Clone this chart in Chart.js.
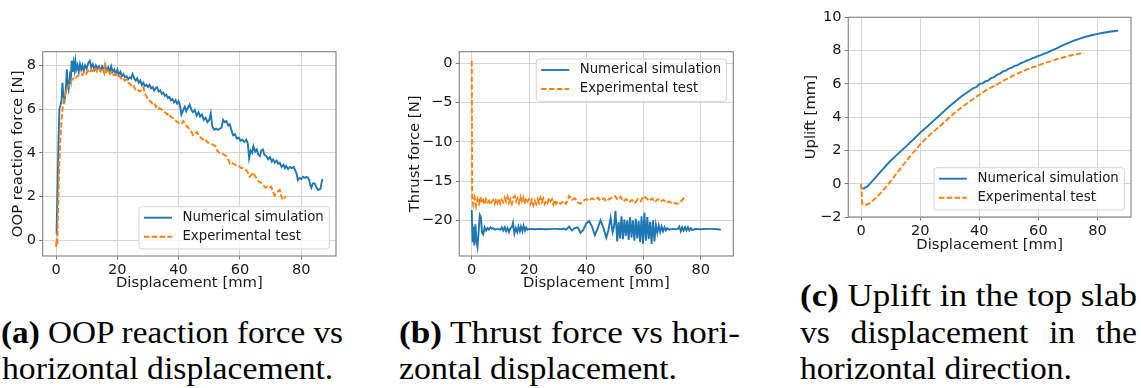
<!DOCTYPE html>
<html><head><meta charset="utf-8">
<script src="https://cdn.jsdelivr.net/npm/chart.js@4.4.1/dist/chart.umd.min.js"></script>
<style>
html,body{margin:0;padding:0;background:#fff;width:1141px;height:388px;overflow:hidden;position:relative;}
.cv{position:absolute;top:0;}
.cap{position:absolute;white-space:nowrap;font-family:'Liberation Serif',serif;font-size:30.5px;line-height:30.5px;color:#000;transform-origin:0 0;}
.cap b{font-weight:bold;}
</style></head><body>
<canvas id="cA" class="cv" width="360" height="292" style="left:0px"></canvas>
<canvas id="cB" class="cv" width="360" height="292" style="left:380px"></canvas>
<canvas id="cC" class="cv" width="381" height="254" style="left:760px"></canvas>
<script>
// ---------- data ----------
const seriesLabels = ['Numerical simulation', 'Experimental test'];
const xTicks = [0, 20, 40, 60, 80];
const oopTicks = [0, 2, 4, 6, 8];
const thrustTicks = [0, -5, -10, -15, -20];
const upliftTicks = [-2, 0, 2, 4, 6, 8, 10];

const oopSim = [[0,0.3],[0.2,0.5],[0.5,2.5],[0.8,4.5],[1.1,6.0],[1.5,6.2],[1.8,6.4],[2.1,7.2],[2.4,6.6],[2.8,6.4],[3.2,6.9],[3.5,7.8],[3.8,7.1],[4.1,6.9],[4.5,7.5],[4.8,7.3],[5.1,8.2],[5.4,7.7],[5.7,8.1],[6.0,7.8],[6.3,8.2],[6.6,7.8],[7.0,8.0],[7.4,7.7],[7.8,8.05],[8.2,7.8],[8.6,8.0],[9.0,7.75],[9.5,8.0],[10.0,7.85],[10.5,8.1],[11.0,8.2],[11.5,7.9],[12.0,8.05],[12.5,7.8],[13.0,8.0],[13.5,7.85],[14.0,7.95],[14.5,7.75],[15.0,7.95],[15.5,7.8],[16.0,8.0],[16.5,7.75],[17.0,7.9],[17.5,7.7],[18.0,7.95],[18.5,7.7],[19.0,7.8],[19.5,7.6],[20.0,7.8],[20.5,7.55],[21.0,7.7],[21.5,7.5],[22.0,7.6],[22.5,7.45],[23.0,7.5],[23.5,7.35],[24.0,7.45],[24.5,7.4],[25.0,7.6],[25.5,7.4],[26.0,7.3],[26.5,7.4],[27.0,7.2],[27.5,7.3],[28.0,7.1],[28.5,7.2],[29.0,7.05],[29.5,7.1],[30.0,7.0],[30.5,7.1],[31.0,6.95],[31.5,7.0],[32.0,6.85],[32.5,6.95],[33.0,7.0],[33.5,6.8],[34.0,6.85],[34.5,6.7],[35.0,6.75],[35.5,6.6],[36.0,6.65],[36.5,6.5],[37.0,6.55],[37.5,6.4],[38.0,6.45],[38.5,6.3],[39.0,6.4],[39.5,6.25],[40.0,6.35],[40.4,6.2],[40.9,5.75],[41.5,5.95],[42.0,6.1],[42.5,5.9],[43.0,6.05],[43.6,6.2],[44.2,5.95],[44.7,5.85],[45.3,5.95],[45.9,5.7],[46.5,5.85],[47.0,5.65],[47.6,5.75],[48.2,5.5],[48.8,5.6],[49.4,5.4],[50.0,5.5],[50.5,5.8],[51.0,5.2],[51.6,5.05],[52.2,5.1],[52.8,5.05],[53.4,5.1],[54.0,5.15],[54.5,5.5],[55.0,5.4],[55.6,5.45],[56.2,5.25],[56.7,5.3],[57.3,5.0],[57.8,4.8],[58.4,4.85],[59.0,4.65],[59.6,4.7],[60.2,4.55],[60.8,4.6],[61.4,4.5],[62.1,4.6],[62.6,4.4],[63.0,3.75],[63.5,4.1],[64.0,4.0],[64.4,4.3],[65.0,4.05],[65.5,4.15],[65.9,3.95],[66.5,3.85],[67.0,4.1],[67.5,4.15],[68.0,3.9],[68.6,3.85],[69.2,3.7],[69.8,3.8],[70.4,3.6],[70.8,3.7],[71.4,3.55],[72.0,3.65],[72.5,3.5],[73.0,3.55],[73.6,3.35],[74.2,3.45],[74.7,3.3],[75.1,3.4],[75.7,3.25],[76.3,3.35],[77.0,3.3],[77.5,3.35],[78.0,3.2],[78.5,3.05],[78.9,2.75],[79.5,2.85],[80.0,2.8],[80.6,2.9],[81.2,2.85],[81.8,2.9],[82.3,2.85],[82.7,2.7],[83.0,2.5],[83.3,2.4],[83.8,2.6],[84.4,2.6],[85.0,2.4],[85.5,2.3],[85.8,2.3],[86.3,2.35],[86.6,2.6],[86.9,2.8]];

const oopExp = [[0,-0.3],[0.2,0.1],[0.4,-0.2],[0.6,1.0],[0.8,2.2],[1.1,3.6],[1.4,4.6],[1.8,5.5],[2.2,6.1],[2.7,6.5],[3.2,6.8],[3.8,7.0],[4.4,7.15],[5.0,7.3],[5.6,7.4],[6.2,7.35],[6.8,7.5],[7.4,7.55],[8.0,7.6],[8.6,7.55],[9.2,7.7],[9.8,7.6],[10.4,7.75],[11.0,7.65],[11.6,7.8],[12.2,7.7],[12.8,7.85],[13.4,7.7],[14.0,7.85],[14.6,7.75],[15.2,7.85],[15.7,7.65],[16.0,8.0],[16.4,7.7],[17.0,7.8],[17.6,7.6],[18.2,7.7],[18.8,7.55],[19.4,7.6],[20.0,7.5],[20.6,7.55],[21.2,7.4],[21.8,7.45],[22.4,7.3],[23.0,7.35],[23.6,7.2],[24.2,7.15],[24.8,7.0],[25.4,7.05],[26.0,6.85],[26.6,6.9],[27.2,6.8],[27.8,6.85],[28.5,7.0],[29.0,6.7],[29.6,6.55],[30.2,6.4],[30.8,6.35],[31.4,6.25],[32.0,6.3],[32.6,6.1],[33.2,6.15],[33.8,6.0],[34.4,6.0],[35.0,5.9],[35.6,5.85],[36.2,5.75],[36.8,5.8],[37.4,5.65],[38.0,5.6],[38.6,5.55],[39.2,5.45],[39.8,5.4],[40.4,5.3],[41.0,5.35],[41.6,5.45],[42.2,5.3],[42.8,5.2],[43.4,5.1],[44.0,5.0],[44.7,4.8],[45.3,4.85],[46.0,4.95],[46.6,4.8],[47.2,4.7],[47.8,4.6],[48.4,4.65],[49.0,4.55],[49.6,4.45],[50.2,4.45],[50.8,4.4],[51.4,4.35],[52.0,4.3],[52.6,4.1],[53.2,4.0],[53.8,4.0],[54.4,3.95],[55.0,3.9],[55.6,3.85],[56.2,3.7],[56.7,3.5],[57.3,3.55],[57.9,3.5],[58.5,3.45],[59.1,3.4],[59.7,3.4],[60.3,3.3],[60.9,3.3],[61.5,3.25],[62.1,3.2],[62.6,3.1],[63.2,2.9],[63.8,3.0],[64.3,3.1],[64.9,2.95],[65.5,2.8],[66.0,2.7],[66.6,2.65],[67.2,2.6],[67.8,2.5],[68.4,2.4],[69.0,2.45],[69.6,2.4],[70.2,2.45],[70.8,2.2],[71.3,2.05],[71.9,2.15],[72.5,2.25],[73.0,2.3],[73.5,2.0],[74.0,1.85],[74.5,1.95],[75.1,2.0]];

const thrustSim = [[0,-18.7],[0.3,-22.8],[0.6,-20.8],[0.9,-23.2],[1.3,-20.5],[1.6,-22.6],[2.0,-23.4],[2.4,-21.5],[2.8,-19.3],[3.2,-19.6],[3.6,-21.6],[4.0,-21.8],[4.5,-20.9],[5.0,-21.3],[5.5,-21.0],[6.0,-21.2],[6.5,-20.9],[7.0,-21.1],[7.5,-21.0],[8.0,-21.2],[9.0,-21.1],[10.0,-21.2],[10.5,-20.9],[11.0,-21.3],[11.5,-20.9],[12.0,-21.4],[12.5,-21.0],[13.0,-21.5],[13.5,-21.0],[14.0,-20.9],[14.4,-20.3],[14.9,-21.7],[15.4,-21.0],[15.9,-21.5],[16.3,-20.8],[16.8,-21.4],[17.2,-20.8],[17.7,-21.4],[18.1,-20.7],[18.6,-21.3],[19.0,-20.9],[19.5,-21.2],[20.0,-21.1],[22.0,-21.15],[24.0,-21.1],[26.0,-21.15],[28.0,-21.1],[30.0,-21.1],[31.0,-21.15],[32.0,-21.05],[33.0,-21.2],[34.0,-20.8],[35.0,-21.3],[36.0,-21.0],[37.0,-20.9],[38.0,-21.6],[39.0,-21.2],[40.0,-20.4],[41.0,-20.1],[42.0,-20.8],[43.0,-21.9],[44.0,-21.0],[45.0,-20.0],[46.0,-21.0],[47.0,-22.2],[47.7,-21.3],[48.5,-19.7],[49.2,-21.5],[49.7,-20.8],[50.2,-18.8],[50.8,-22.7],[51.3,-20.2],[51.8,-22.3],[52.3,-19.5],[52.8,-22.4],[53.3,-19.9],[53.8,-22.0],[54.3,-20.0],[54.8,-22.5],[55.3,-19.6],[55.8,-22.2],[56.3,-20.0],[56.8,-22.6],[57.3,-19.8],[57.8,-22.3],[58.3,-20.1],[58.8,-22.8],[59.3,-19.5],[59.8,-23.0],[60.3,-19.0],[60.8,-22.6],[61.3,-19.6],[61.8,-22.4],[62.3,-20.2],[62.8,-23.0],[63.3,-20.0],[63.8,-22.7],[64.3,-20.6],[64.8,-21.6],[65.3,-20.7],[65.8,-21.5],[66.3,-20.8],[66.8,-21.4],[67.3,-20.9],[67.8,-21.3],[68.3,-21.0],[69.0,-21.2],[70.0,-21.1],[71.0,-21.15],[72.0,-21.1],[72.5,-20.8],[73.0,-21.4],[73.5,-20.9],[74.0,-21.3],[74.5,-20.9],[75.0,-21.3],[75.5,-20.9],[76.0,-21.3],[76.5,-21.0],[77.0,-21.25],[78.0,-21.1],[80.0,-21.15],[82.0,-21.1],[84.0,-21.1],[86.0,-21.15],[87.0,-21.2]];

const thrustExp = [[0,0.3],[0.15,-17.2],[0.5,-18.0],[1.0,-17.1],[1.5,-18.2],[2.0,-17.3],[2.5,-17.9],[3.0,-17.0],[3.5,-17.8],[4.0,-17.4],[4.5,-18.0],[5.0,-17.3],[5.5,-17.7],[6.0,-17.5],[6.5,-18.0],[7.0,-17.6],[7.5,-17.4],[8.0,-17.9],[8.5,-17.3],[9.0,-17.8],[9.5,-17.2],[10.0,-17.9],[10.5,-17.4],[11.0,-17.7],[11.5,-17.1],[12.0,-17.6],[12.5,-17.0],[13.0,-17.8],[13.5,-17.3],[14.0,-17.9],[14.5,-17.1],[15.0,-16.9],[15.5,-17.6],[16.0,-17.2],[16.5,-17.8],[17.0,-17.0],[17.5,-17.6],[18.0,-17.1],[18.5,-17.9],[19.0,-17.2],[19.5,-17.6],[20.0,-17.3],[20.5,-17.9],[21.0,-17.4],[21.5,-18.1],[22.0,-17.5],[22.5,-17.9],[23.0,-17.3],[23.5,-17.8],[24.0,-17.1],[24.5,-17.7],[25.0,-17.2],[25.5,-17.9],[26.0,-17.5],[26.5,-17.8],[27.0,-17.2],[27.5,-17.6],[28.0,-17.3],[28.5,-18.0],[29.0,-17.4],[29.5,-17.9],[30.0,-17.6],[31,-17.9],[32,-17.5],[33,-17.9],[34,-16.9],[35,-17.4],[36,-17.2],[37,-17.7],[38,-17.9],[39,-17.5],[40,-17.3],[41,-17.5],[42,-17.2],[43,-17.4],[44,-17.1],[45,-17.5],[46,-17.2],[47,-17.6],[48,-17.3],[49,-17.1],[50,-16.9],[51,-17.4],[52,-17.0],[53,-17.6],[54,-17.3],[55,-17.7],[56,-17.4],[57,-17.8],[58,-17.3],[59,-17.6],[60,-16.9],[61,-17.2],[62,-17.5],[63,-17.2],[64,-17.7],[65,-17.3],[66,-17.6],[67,-17.4],[68,-17.8],[69,-17.6],[70,-17.9],[71,-17.8],[72,-17.9],[73,-17.6],[74,-17.2],[75,-16.9]];

const upliftSim = [[0,-0.28],[1,-0.27],[2,-0.18],[3,0.0],[4,0.2],[5,0.4],[6,0.6],[7,0.8],[8,1.0],[9,1.2],[10,1.38],[12,1.72],[14,2.05],[16,2.38],[18,2.72],[20,3.07],[22,3.38],[24,3.7],[26,4.02],[28,4.35],[30,4.67],[32,4.95],[34,5.25],[36,5.5],[38,5.75],[39,5.8],[40,6.0],[41,6.02],[42,6.15],[43,6.2],[44,6.35],[45,6.4],[46,6.55],[47,6.62],[48,6.75],[49,6.8],[50,6.92],[51,6.98],[52,7.08],[53,7.12],[54,7.24],[55,7.3],[56,7.4],[57,7.45],[58,7.55],[59,7.6],[60,7.68],[61,7.74],[62,7.82],[63,7.88],[64,7.97],[66,8.12],[68,8.3],[70,8.45],[72,8.6],[74,8.72],[76,8.83],[78,8.92],[80,9.0],[82,9.07],[84,9.13],[86,9.18],[87,9.2]];

const upliftExp = [[0,0],[0.3,-1.1],[0.6,-1.25],[1,-1.28],[1.5,-1.28],[2,-1.25],[3,-1.15],[4,-1.0],[5,-0.85],[6,-0.67],[7,-0.48],[8,-0.28],[9,-0.06],[10,0.16],[12,0.62],[14,1.08],[16,1.52],[18,1.95],[20,2.36],[22,2.73],[24,3.05],[26,3.36],[28,3.68],[30,4.0],[32,4.3],[34,4.58],[36,4.85],[38,5.1],[40,5.35],[42,5.58],[44,5.78],[46,5.97],[48,6.18],[50,6.35],[52,6.55],[54,6.7],[56,6.85],[58,7.0],[60,7.1],[62,7.25],[64,7.35],[66,7.47],[68,7.57],[70,7.67],[72,7.75],[74,7.82],[75.5,7.85]];

// ---------- rendering ----------
Chart.defaults.font.family = '"DejaVu Sans", sans-serif';
Chart.defaults.color = '#1a1a1a';
const TXT = '#1a1a1a';
const toXY = arr => arr.map(p => ({x: p[0], y: p[1]}));
const minus = v => String(v).replace('-', '\u2212');

const framePlugin = {
  id: 'frame',
  afterDatasetsDraw(chart, args, opts) {
    const {ctx, chartArea: a} = chart;
    ctx.save();
    ctx.strokeStyle = '#8a8a8a';
    ctx.lineWidth = 1.2;
    ctx.strokeRect(a.left, a.top, a.right - a.left, a.bottom - a.top);
    const fs = 13.3;
    ctx.font = fs + 'px "DejaVu Sans"';
    const ds = chart.data.datasets;
    const tw = Math.max(...ds.map(d => ctx.measureText(d.label).width));
    const w = 5 + 28 + 10.5 + tw + 5.5;
    const h = 42.3;
    const x = a.right - 6.7 - w;
    const y = opts.corner === 'top' ? a.top + 7.3 : a.bottom - 7 - h;
    ctx.beginPath();
    ctx.roundRect(x, y, w, h, 3);
    ctx.fillStyle = 'rgba(255,255,255,0.8)';
    ctx.fill();
    ctx.strokeStyle = '#d4d4d4';
    ctx.lineWidth = 1;
    ctx.stroke();
    ds.forEach((d, i) => {
      const cy = y + 11 + i * 19;
      ctx.beginPath();
      ctx.setLineDash(d.borderDash || []);
      ctx.strokeStyle = d.borderColor;
      ctx.lineWidth = d.borderWidth;
      ctx.moveTo(x + 5, cy);
      ctx.lineTo(x + 33, cy);
      ctx.stroke();
      ctx.setLineDash([]);
      ctx.fillStyle = TXT;
      ctx.textBaseline = 'middle';
      ctx.textAlign = 'left';
      ctx.fillText(d.label, x + 43.5, cy);
    });
    ctx.restore();
  }
};

function makeChart(id, cfg) {
  const gridOpts = {color: '#d6d6d6', lineWidth: 1, drawTicks: true, tickLength: 3.5, tickColor: '#777', tickWidth: 1};
  return new Chart(document.getElementById(id), {
    type: 'line',
    data: {
      datasets: [
        {label: seriesLabels[0], data: toXY(cfg.sim), borderColor: '#1f77b4', borderWidth: 1.9, pointRadius: 0, tension: 0, fill: false, order: 1},
        {label: seriesLabels[1], data: toXY(cfg.exp), borderColor: '#ff7f0e', borderWidth: 1.9, borderDash: [5.5, 2.3], pointRadius: 0, tension: 0, fill: false, order: 0}
      ]
    },
    options: {
      responsive: false, animation: false, devicePixelRatio: 1,
      layout: {padding: {left: 0, top: cfg.top, right: cfg.right, bottom: 0}},
      plugins: {legend: {display: false}, tooltip: {enabled: false}, frame: {corner: cfg.corner}},
      scales: {
        x: {
          type: 'linear', min: -4.35, max: 91.35,
          afterBuildTicks: s => { s.ticks = xTicks.map(v => ({value: v})); },
          afterFit: s => { s.height = cfg.xh; },
          grid: gridOpts, border: {display: false},
          ticks: {color: TXT, font: {size: 14.6}, padding: 1.6, maxRotation: 0, callback: v => minus(v)},
          title: {display: true, text: 'Displacement [mm]', color: TXT, font: {size: 14.8}, padding: 0}
        },
        y: {
          type: 'linear', min: cfg.ymin, max: cfg.ymax,
          afterBuildTicks: s => { s.ticks = cfg.yticks.map(v => ({value: v})); },
          afterFit: s => { s.width = cfg.yw; },
          grid: gridOpts, border: {display: false},
          ticks: {color: TXT, font: {size: 14.6}, padding: 3.2, callback: v => minus(v)},
          title: {display: true, text: cfg.ytitle, color: TXT, font: {size: 14.8}, padding: {top: cfg.ytp, bottom: 0}}
        }
      }
    },
    plugins: [framePlugin]
  });
}

makeChart('cA', {sim: oopSim, exp: oopExp, ymin: -0.72, ymax: 8.62, yticks: oopTicks, ytitle: 'OOP reaction force [N]',
  top: 51.7, right: 24, xh: 36, yw: 42.7, ytp: 9.3, corner: 'bottom'});
makeChart('cB', {sim: thrustSim, exp: thrustExp, ymin: -24.55, ymax: 1.48, yticks: thrustTicks, ytitle: 'Thrust force [N]',
  top: 51.7, right: 6.7, xh: 36, yw: 79.3, ytp: 26.0, corner: 'top'});
makeChart('cC', {sim: upliftSim, exp: upliftExp, ymin: -2, ymax: 10, yticks: upliftTicks, ytitle: 'Uplift [mm]',
  top: 17.3, right: 10, xh: 37, yw: 88.3, ytp: 42.7, corner: 'bottom'});

// ---------- captions ----------
const captionLines = [
  {bold: '(a)', text: ' OOP reaction force vs', x0: 1, x1: 343, base: 343.5},
  {text: 'horizontal displacement.', x0: 1.7, x1: 333, base: 380},
  {bold: '(b)', text: ' Thrust force vs hori-', x0: 399, x1: 740, base: 343.5},
  {text: 'zontal displacement.', x0: 399, x1: 677, base: 380},
  {bold: '(c)', text: ' Uplift in the top slab', x0: 800, x1: 1137, base: 307},
  {words: ['vs', 'displacement', 'in', 'the'], x0: 800, x1: 1137, base: 343.5},
  {text: 'horizontal direction.', x0: 800, x1: 1072, base: 380}
];
const FS = 30.5, baseOff = 0.8375 * FS;
const scales = [];
const justified = [];
captionLines.forEach(c => {
  const d = document.createElement('div');
  d.className = 'cap';
  d.style.left = c.x0 + 'px';
  d.style.top = (c.base - baseOff) + 'px';
  if (c.words) {
    d.style.display = 'flex';
    d.style.justifyContent = 'space-between';
    c.words.forEach(wd => { const s = document.createElement('span'); s.textContent = wd; d.appendChild(s); });
    document.body.appendChild(d);
    justified.push({d, c});
    return;
  }
  if (c.bold) { const b = document.createElement('b'); b.textContent = c.bold; d.appendChild(b); }
  d.appendChild(document.createTextNode(c.text));
  document.body.appendChild(d);
  const nat = d.getBoundingClientRect().width;
  const sc = (c.x1 - c.x0) / nat;
  if (!c.bold) scales.push(sc);
  d.style.transform = 'scaleX(' + sc + ')';
});
const jScale = scales.reduce((s, v) => s + v, 0) / scales.length;
justified.forEach(({d, c}) => {
  d.style.width = ((c.x1 - c.x0) / jScale) + 'px';
  d.style.transform = 'scaleX(' + jScale + ')';
});
</script>
</body></html>
